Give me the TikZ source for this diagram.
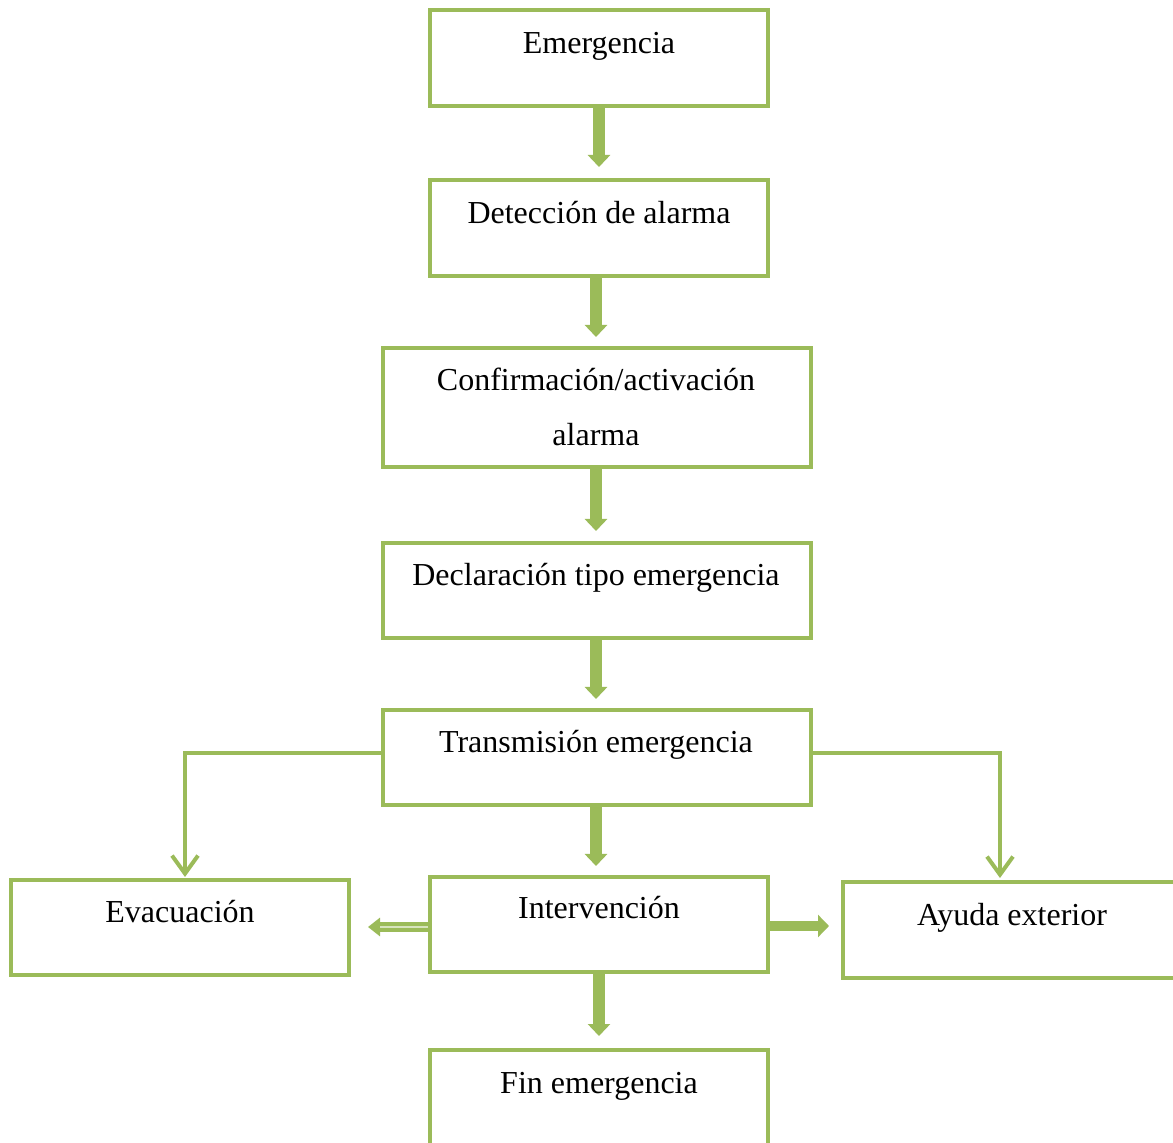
\documentclass[tikz,border=0pt]{standalone}
\usepackage{fontspec}
\setmainfont{Liberation Serif}
\usetikzlibrary{arrows.meta}
\definecolor{ogreen}{HTML}{9BBB59}
\definecolor{lgreen}{HTML}{D7E4BD}
\begin{document}
\begin{tikzpicture}[x=0.5pt,y=-0.5pt,
  box/.style={draw=ogreen, line width=2pt, rectangle, inner sep=0pt},
  narrow/.style={box, minimum width=169pt, minimum height=48pt},
  wide/.style={box, minimum width=214pt, minimum height=47.5pt},
  lbl/.style={anchor=base, inner sep=0pt, font=\fontsize{16}{20}\selectfont},
  blockarrow/.style={draw=ogreen, line width=6pt, -{Triangle[width=11pt,length=6pt]}, shorten >=0pt},
  thinarrow/.style={draw=ogreen, line width=2pt, -{Straight Barb[length=9pt,width=13pt]}}
]
\useasboundingbox (0,0) rectangle (1173,1143);
\clip (0,0) rectangle (1173,1143);

\node[narrow] (b1) at (599,58) {};
\node[narrow] (b2) at (599,228) {};
\node[wide, minimum height=59.5pt] (b3) at (597,407.5) {};
\node[wide] (b4) at (597,590.5) {};
\node[wide] (b5) at (597,757.5) {};
\node[narrow, minimum height=47.5pt] (b6) at (180,927.5) {};
\node[narrow, minimum height=47.5pt] (b7) at (599,924.5) {};
\node[box, minimum width=168.5pt, minimum height=48pt] (b8) at (1011.5,930) {};
\node[narrow] (b9) at (599,1098) {};

\node[lbl] (t1) at (599,54) {Emergencia};
\node[lbl] (t2) at (599,224) {Detección de alarma};
\node[lbl] (t3a) at (596,391) {Confirmación/activación};
\node[lbl] (t3b) at (596,446) {alarma};
\node[lbl] (t4) at (596,586) {Declaración tipo emergencia};
\node[lbl] (t5) at (596,753) {Transmisión emergencia};
\node[lbl] (t6) at (180,922) {Evacuación};
\node[lbl] (t7) at (599,919) {Intervención};
\node[lbl] (t8) at (1012,926) {Ayuda exterior};
\node[lbl] (t9) at (599,1093) {Fin emergencia};

\coordinate (a1) at (599,167);
\coordinate (a2) at (596,337);
\coordinate (a3) at (596,531);
\coordinate (a4) at (596,699);
\coordinate (a5) at (596,866);
\coordinate (a6) at (599,1036);
\draw[blockarrow] (b1.south -| a1) -- (a1);
\draw[blockarrow] (b2.south -| a2) -- (a2);
\draw[blockarrow] (b3.south -| a3) -- (a3);
\draw[blockarrow] (b4.south -| a4) -- (a4);
\draw[blockarrow] (b5.south -| a5) -- (a5);
\draw[blockarrow] (b7.south -| a6) -- (a6);

% side arrows from Intervención
\coordinate (lt) at (368,927);
\coordinate (rt) at (829,926);
\draw[draw=ogreen, line width=5pt, -{Triangle[width=9pt,length=6pt]}] (b7.west |- lt) -- (lt);
\draw[draw=lgreen, line width=1.2pt] (b7.west |- lt) -- ([xshift=6pt]lt);
\draw[draw=ogreen, line width=5pt, -{Triangle[width=11pt,length=5.5pt]}] (b7.east |- rt) -- (rt);

% branches from Transmisión
\coordinate (lb) at (185,877);
\coordinate (rb) at (1000,878);
\draw[thinarrow] (b5.west |- 0,753) -| (lb);
\draw[thinarrow] (b5.east |- 0,753) -| (rb);
\end{tikzpicture}
\end{document}
